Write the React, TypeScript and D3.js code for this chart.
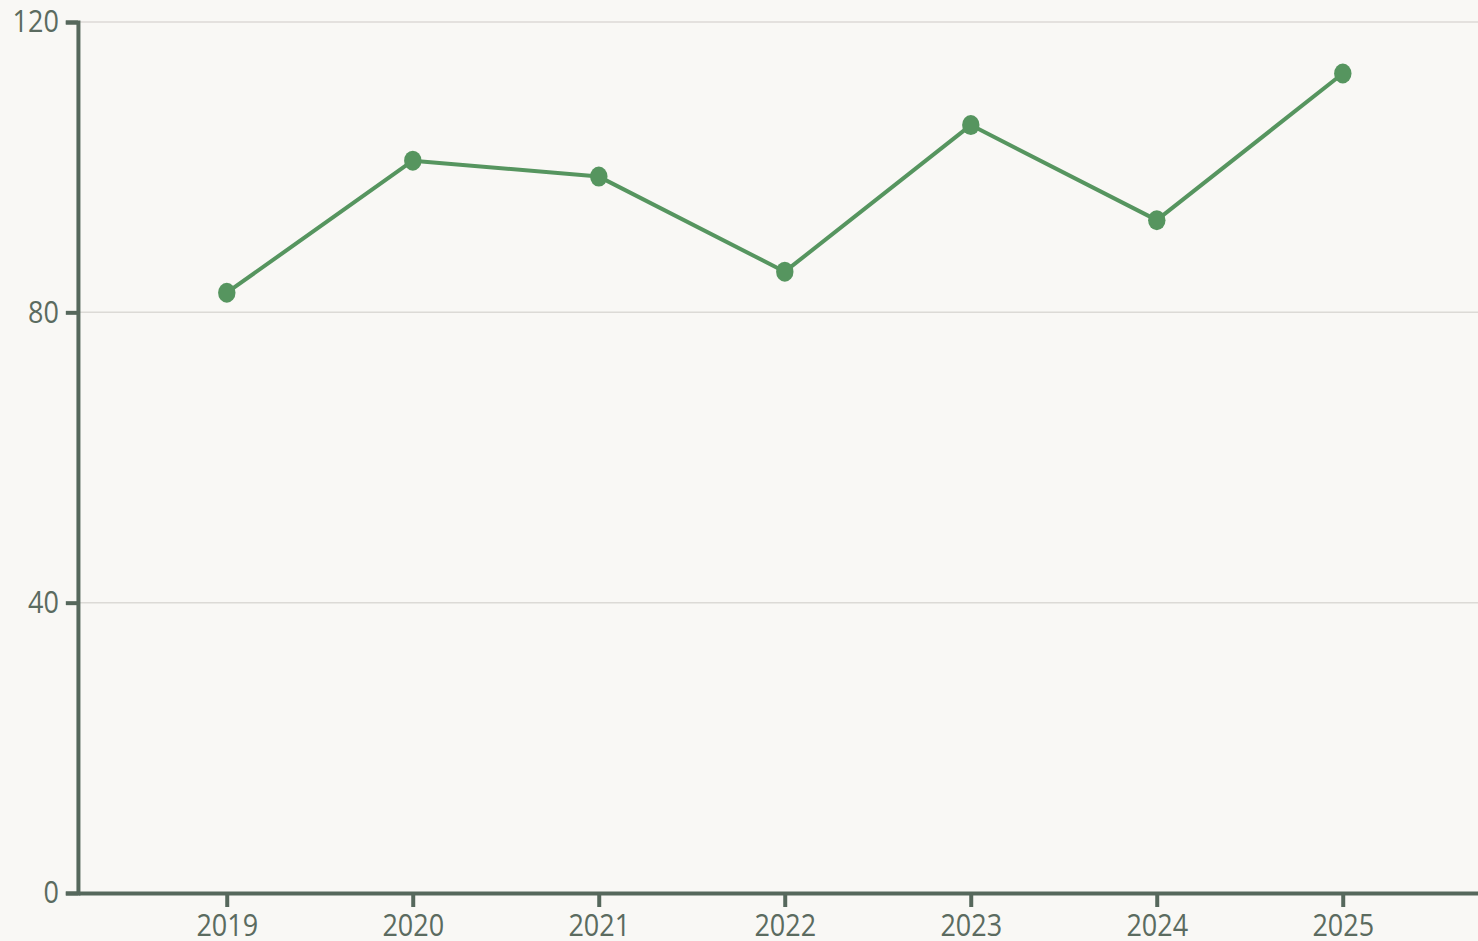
import React, { useEffect, useRef } from "react";
import * as d3 from "d3";

// values
const years = ["2019", "2020", "2021", "2022", "2023", "2024", "2025"];
const values = [82.7, 100.9, 98.7, 85.6, 105.8, 92.7, 112.9];
const yTicks = [0, 40, 80, 120];

// the reference looks squeezed horizontally, so draw in a wider viewBox and let it squash
const W = 1478, H = 941;
const sx = 0.87;
const VW = W / sx;

const App = () => {
  const ref = useRef<SVGSVGElement>(null);

  useEffect(() => {
    document.body.style.margin = "0";
    const svg = d3.select(ref.current);
    svg.selectAll("*").remove();

    const left = 78 / sx, right = 1491.6 / sx;
    const top = 22, bottom = 893;

    const x = d3.scalePoint().domain(years).range([left, right]).padding(0.8);
    const y = d3.scaleLinear().domain([0, 120]).range([bottom, top]);

    svg.append("rect").attr("width", VW).attr("height", H).attr("fill", "#f9f8f5");

    // grid
    svg.append("g")
      .selectAll("line")
      .data(yTicks.filter(d => d > 0))
      .enter()
      .append("line")
      .attr("x1", left).attr("x2", VW)
      .attr("y1", d => y(d)).attr("y2", d => y(d))
      .attr("stroke", "#dcdad6")
      .attr("stroke-width", 1.5)
      .attr("vector-effect", "non-scaling-stroke");

    const font = "'Open Sans', 'Noto Sans', sans-serif";
    const axisCol = "#56685c";

    const gy = svg.append("g")
      .attr("transform", `translate(${left},0)`)
      .call(d3.axisLeft(y).tickValues(yTicks).tickSize(14).tickPadding(8));
    const gx = svg.append("g")
      .attr("transform", `translate(0,${bottom})`)
      .call(d3.axisBottom(x).tickSize(14).tickSizeOuter(0).tickPadding(7));

    [gy, gx].forEach(g => {
      g.selectAll("path, line")
        .attr("stroke", axisCol)
        .attr("stroke-width", 4)
        .attr("vector-effect", "non-scaling-stroke");
      g.selectAll("text")
        .attr("fill", "#5b6b60")
        .style("font-family", font)
        .style("font-size", "31px");
    });

    const line = d3.line<number>()
      .x((d, i) => x(years[i]) as number)
      .y(d => y(d));

    svg.append("path")
      .datum(values)
      .attr("d", line)
      .attr("fill", "none")
      .attr("stroke", "#56955f")
      .attr("stroke-width", 4)
      .attr("stroke-linejoin", "round")
      .attr("vector-effect", "non-scaling-stroke");

    svg.append("g")
      .selectAll("ellipse")
      .data(values)
      .enter()
      .append("ellipse")
      .attr("cx", (d, i) => x(years[i]) as number)
      .attr("cy", d => y(d))
      .attr("rx", 10)
      .attr("ry", 10)
      .attr("fill", "#56955f");
  }, []);

  return (
    <svg
      ref={ref}
      width={W}
      height={H}
      viewBox={`0 0 ${VW} ${H}`}
      preserveAspectRatio="none"
      style={{ display: "block" }}
    />
  );
};

export default App;
